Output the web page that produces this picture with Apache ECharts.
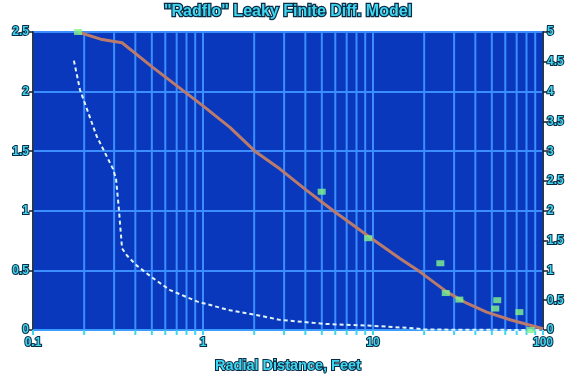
<!DOCTYPE html>
<html>
<head>
<meta charset="utf-8">
<style>
html,body{margin:0;padding:0;background:#fff;}
#c{width:576px;height:379px;}
</style>
<script src="https://cdn.jsdelivr.net/npm/echarts@6/dist/echarts.min.js"></script>
</head>
<body>
<div id="c"></div>
<script>
// ---- data ----
const titleText = '"Radflo" Leaky Finite Diff. Model';
const xAxisName = 'Radial Distance, Feet';
const xMajorTicks = [0.1, 1, 10, 100];
const xMinorTicks = [0.2,0.3,0.4,0.5,0.6,0.7,0.8,0.9, 2,3,4,5,6,7,8,9, 20,30,40,50,60,70,80,90];

// model drawdown curve (left axis)
const modelX = [0.184, 0.25, 0.334, 0.5, 1.0, 1.44, 2.02, 2.84, 4.0, 5.84, 10, 14.4, 18.8, 27.2, 35.6, 46.6, 64, 84, 100];
const modelY = [2.5, 2.44, 2.41, 2.21, 1.88, 1.70, 1.5, 1.35, 1.18, 1.0, 0.76, 0.6, 0.49, 0.32, 0.225, 0.15, 0.086, 0.04, 0.01];

// dashed curve (right axis)
const dashX = [0.174, 0.189, 0.237, 0.296, 0.308, 0.32, 0.334, 0.357, 0.408, 0.508, 0.64, 0.92, 1.44, 2.25, 2.83, 4.44, 5.4, 10, 17.2, 20, 30, 100];
const dashY = [4.52, 4.03, 3.25, 2.7, 2.53, 2.03, 1.37, 1.25, 1.08, 0.87, 0.67, 0.48, 0.33, 0.23, 0.17, 0.12, 0.1, 0.07, 0.03, 0.01, 0.005, 0];

// observed points (left axis)
const obsX = [0.184, 4.99, 9.38, 24.9, 26.8, 32.2, 53.8, 52.4, 72.6, 84.6];
const obsY = [2.5, 1.16, 0.77, 0.56, 0.31, 0.255, 0.25, 0.18, 0.15, 0.0];

// ---- styles ----
const cyan = '#3fd6ef';
const outline = '#0b2a44';
const gridBlue = '#3b8eff';
const txt = (size) => ({
  color: cyan, fontFamily: 'Liberation Sans, Arial, sans-serif', fontWeight: 'bold',
  fontSize: size, textBorderColor: outline, textBorderWidth: 2
});

const chart = echarts.init(document.getElementById('c'), null, {renderer: 'canvas'});

const zip = (a, b) => a.map((v, i) => [v, b[i]]);

chart.setOption({
  animation: false,
  backgroundColor: '#ffffff',
  title: {
    text: titleText, left: 'center', top: -1,
    textStyle: Object.assign(txt(16), {textBorderWidth: 2.5})
  },
  grid: {
    left: 33, right: 33, top: 32, bottom: 47,
    show: true, backgroundColor: '#0938bc', borderColor: '#1a1d2a', borderWidth: 1.5
  },
  xAxis: {
    type: 'log', logBase: 10, min: 0.1, max: 100,
    name: xAxisName, nameLocation: 'middle', nameGap: 28,
    nameTextStyle: txt(14.5),
    axisLine: {show: true, lineStyle: {color: '#3a9cff', width: 2}},
    axisTick: {show: true, length: 5, lineStyle: {color: cyan, width: 2}},
    axisLabel: Object.assign(txt(12), {margin: 7, formatter: v => {
      const r = xMajorTicks.find(t => Math.abs(t - v) / t < 1e-6);
      return r === undefined ? '' : String(r);
    }}),
    splitLine: {show: true, lineStyle: {color: gridBlue, width: 2}}
  },
  yAxis: [{
    type: 'value', min: 0, max: 2.5, interval: 0.5, position: 'left',
    axisLine: {show: true, lineStyle: {color: '#1a1d2a', width: 1.5}},
    axisTick: {show: true, length: 4, lineStyle: {color: '#1a1d2a', width: 1.5}},
    axisLabel: Object.assign(txt(12), {margin: 4}),
    splitLine: {show: true, lineStyle: {color: gridBlue, width: 2}}
  }, {
    type: 'value', min: 0, max: 5, interval: 0.5, position: 'right',
    axisLine: {show: true, lineStyle: {color: '#1a1d2a', width: 1.5}},
    axisTick: {show: true, length: 5, lineStyle: {color: '#1a1d2a', width: 1.5}},
    axisLabel: Object.assign(txt(12), {margin: 4}),
    splitLine: {show: false}
  }],
  series: [{
    type: 'custom', z: 1, clip: false, silent: true,
    data: xMinorTicks.map(v => [v, 0]),
    encode: {x: 0, y: 1},
    renderItem: (params, api) => {
      const x = api.coord([api.value(0), 0])[0];
      const cs = params.coordSys;
      return {type: 'group', children: [
        {type: 'line', shape: {x1: x, y1: cs.y, x2: x, y2: cs.y + cs.height},
         style: {stroke: gridBlue, lineWidth: 2}},
        {type: 'line', shape: {x1: x, y1: cs.y + cs.height, x2: x, y2: cs.y + cs.height + 5},
         style: {stroke: cyan, lineWidth: 2}}
      ]};
    }
  }, {
    type: 'line', z: 3, yAxisIndex: 1, data: zip(dashX, dashY),
    showSymbol: false, symbol: 'none',
    lineStyle: {color: '#e2f4f0', width: 2, type: [4, 3]}
  }, {
    type: 'line', z: 4, yAxisIndex: 0, data: zip(modelX, modelY),
    showSymbol: false, symbol: 'none',
    lineStyle: {color: '#bb7b6c', width: 3}
  }, {
    type: 'scatter', z: 5, yAxisIndex: 0, data: zip(obsX, obsY),
    symbol: 'rect', symbolSize: [8, 6], clip: false,
    itemStyle: {color: '#82f58c'}
  }]
});
</script>
</body>
</html>
